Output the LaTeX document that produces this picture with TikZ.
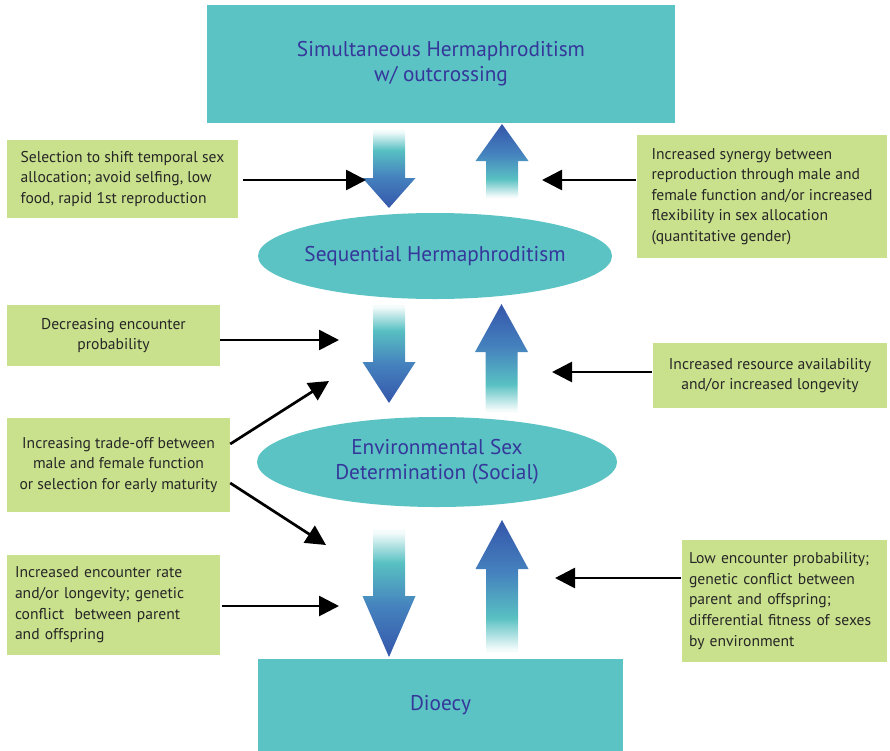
\documentclass[tikz,border=0pt]{standalone}
\usepackage{fontspec}
\setmainfont{PT Sans}
\usetikzlibrary{arrows.meta,shapes.geometric}
\definecolor{tealfill}{HTML}{5BC3C3}
\definecolor{greenfill}{HTML}{C9E08D}
\definecolor{navytext}{HTML}{35379A}
\definecolor{graytext}{HTML}{262626}
\definecolor{ablue}{HTML}{3556AA}
\definecolor{amid}{HTML}{4582BE}
\definecolor{ateal}{HTML}{58C0C2}
\definecolor{afade}{HTML}{F4FBFB}
\pgfdeclareverticalshading{dnshade}{100bp}{color(0bp)=(ablue); color(25bp)=(ablue); color(45bp)=(amid); color(62bp)=(ateal); color(74bp)=(afade); color(100bp)=(afade)}
\pgfdeclareverticalshading{upshade}{100bp}{color(0bp)=(afade); color(26bp)=(afade); color(38bp)=(ateal); color(55bp)=(amid); color(75bp)=(ablue); color(100bp)=(ablue)}
\newcommand\gradDown[4]{%
  \shade[shading=dnshade] (#1-16,#2) -- (#1+16,#2) -- (#1+16,#3) -- (#1+26.5,#3) -- (#1,#4) -- (#1-26.5,#3) -- (#1-16,#3) -- cycle;}
\newcommand\gradUp[4]{%
  \shade[shading=upshade] (#1-16,#2) -- (#1+16,#2) -- (#1+16,#3) -- (#1+26.5,#3) -- (#1,#4) -- (#1-26.5,#3) -- (#1-16,#3) -- cycle;}
\tikzset{
  tealfont/.style={text=navytext, align=center, font=\fontsize{21.3}{25}\selectfont},
  tealbox/.style={fill=tealfill, draw=none, inner sep=0pt, tealfont},
  tealell/.style={ellipse, fill=tealfill, draw=none, inner sep=0pt},
  greenbox/.style={fill=greenfill, draw=none, text=graytext, inner sep=0pt,
    font=\fontsize{15.6}{20.6}\selectfont},
  blk/.style={draw=black, line width=2.7pt, -{Triangle[length=20pt,width=20pt]}}
}
\begin{document}
\begin{tikzpicture}[x=1pt,y=-1pt]
\useasboundingbox (0,0) rectangle (890,750);
% main states
\node[tealbox, minimum width=468pt, minimum height=118pt] (SH) at (441,64) {Simultaneous Hermaphroditism\\w/ outcrossing};
\node[tealell, minimum width=354pt, minimum height=86pt,
  label={[tealfont]center:Sequential Hermaphroditism}] (SQ) at (435,256) {};
\node[tealell, minimum width=360pt, minimum height=90pt,
  label={[tealfont]center:Environmental Sex\\Determination (Social)}] (ESD) at (437,462) {};
\node[tealbox, minimum width=365pt, minimum height=92pt] (DI) at (440.5,705) {Dioecy};
% gradient arrows
\gradDown{389}{130}{178}{208}
\gradUp{502}{198}{161}{124}
\gradDown{389}{305}{362}{403}
\gradUp{501.5}{412}{352}{304}
\gradDown{389}{530}{596}{657}
\gradUp{502}{652}{569}{520}
% green boxes
\node[greenbox, minimum width=231pt, minimum height=78pt, align=left] (L1) at (122.5,179)
  {Selection to shift temporal sex\\allocation; avoid selfing, low\\food, rapid 1st reproduction};
\node[greenbox, minimum width=250pt, minimum height=123pt, align=left] (R1) at (762,196.5)
  {Increased synergy between\\reproduction through male and\\female function and/or increased\\flexibility in sex allocation\\(quantitative gender)};
\node[greenbox, minimum width=213pt, minimum height=61pt, align=center] (L2) at (113.5,335.5)
  {Decreasing encounter\\probability};
\node[greenbox, minimum width=223pt, minimum height=94pt, align=center] (L3) at (118.5,465)
  {Increasing trade-off between\\male and female function\\or selection for early maturity};
\node[greenbox, minimum width=213pt, minimum height=100pt, inner xsep=8pt, text width=197pt, align=left] (L4) at (113.5,605)
  {Increased encounter rate\\and/or longevity; genetic\\conflict\ \ between parent\\and offspring};
\node[greenbox, minimum width=234pt, minimum height=65pt, align=center] (R2) at (770,375.5)
  {Increased resource availability\\and/or increased longevity};
\node[greenbox, minimum width=205pt, minimum height=122pt, inner xsep=7pt, text width=191pt, align=left] (R3) at (784.5,601)
  {Low encounter probability;\\genetic conflict between\\parent and offspring;\\differential fitness of sexes\\by environment};
% arrow tips
\coordinate (t1) at (366,180);
\coordinate (t2) at (542,180);
\coordinate (t3) at (339,340);
\coordinate (t4a) at (329,381);
\coordinate (t4b) at (326,545);
\coordinate (t5) at (339,606);
\coordinate (t6) at (552,372);
\coordinate (t7) at (555,578);
% black arrows
\draw[blk] ([xshift=5pt]L1.east |- t1) -- (t1);
\draw[blk] ([xshift=-1pt]R1.west |- t2) -- (t2);
\draw[blk] (L2.east |- t3) -- (t3);
\draw[blk] (L3.east |- 0,444) -- (t4a);
\draw[blk] (L3.east |- 0,483) -- (t4b);
\draw[blk] ([xshift=2pt]L4.east |- t5) -- (t5);
\draw[blk] ([xshift=-1pt]R2.west |- t6) -- (t6);
\draw[blk] ([xshift=-1pt]R3.west |- t7) -- (t7);
\end{tikzpicture}
\end{document}
